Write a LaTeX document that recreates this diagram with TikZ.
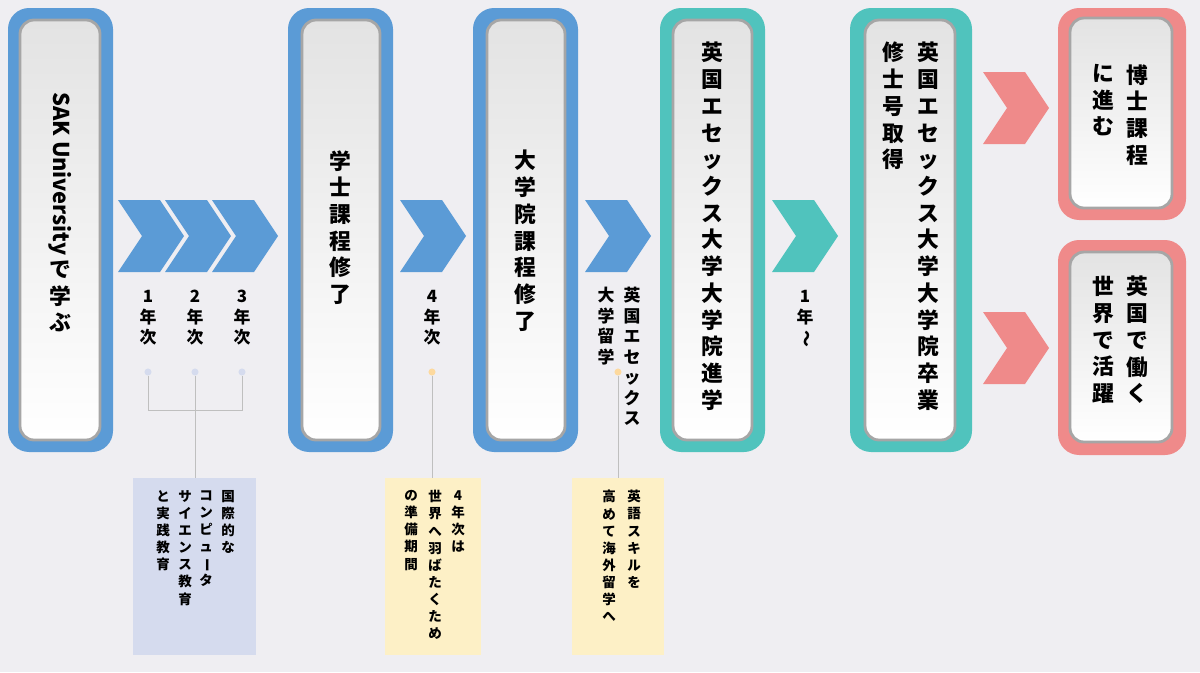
\documentclass[tikz,border=0pt]{standalone}
\usepackage{fontspec}
\setmainfont{Noto Sans CJK JP}
\usepackage{graphicx}
\usetikzlibrary{positioning, calc}

\definecolor{bgc}{HTML}{EFEEF2}
\definecolor{blu}{HTML}{5B9BD6}
\definecolor{tea}{HTML}{50C3BD}
\definecolor{red}{HTML}{EF8A8A}
\definecolor{lav}{HTML}{D5DBEE}
\definecolor{yel}{HTML}{FDF0C6}

% vertical text: one character per line
\def\tate#1{\tatei#1\relax}
\def\tatei#1{\ifx\relax#1\else#1\\\expandafter\tatei\fi}
\def\vsim{\rotatebox[origin=c]{-90}{〜}}
\def\vdash{\rotatebox[origin=c]{-90}{ー}}
\def\sak{\rotatebox{-90}{SAK University\,}}

\tikzset{
  card/.style={rounded corners=15pt, fill=#1},
  inner/.style={rounded corners=10pt, draw=gray!70, line width=2pt,
    top color=gray!22, bottom color=white},
  col/.style={anchor=north, align=center, inner sep=0pt, font=\bfseries\fontsize{15.5pt}{19pt}\selectfont},
  lab/.style={anchor=north, align=center, inner sep=0pt, font=\bfseries\fontsize{12pt}{14.6pt}\selectfont},
  note/.style={anchor=north, align=center, inner sep=0pt, font=\bfseries\fontsize{9.6pt}{12.2pt}\selectfont},
  dot/.style={circle, inner sep=0pt, minimum size=5pt, fill=#1},
  link/.style={draw=gray!50, line width=0.6pt},
}
\newcommand\chev[3]{% x0, y0, colour
  \fill[#3] (#1,#2) -- ++(42,0) -- ++(24,36) -- ++(-24,36) -- ++(-42,0) -- ++(24,-36) -- cycle;}

\begin{document}
\begin{tikzpicture}[x=0.025cm, y=-0.025cm]
\fill[bgc] (0,0) rectangle (1200,672);
\useasboundingbox (0,0) rectangle (1200,672);

% cards
\fill[card=blu] (8,8) rectangle (113,452);
\draw[inner] (20,20) rectangle (100,440);
\fill[card=blu] (288,8) rectangle (393,452);
\draw[inner] (302,20) rectangle (380,440);
\fill[card=blu] (473,8) rectangle (578,452);
\draw[inner] (487,20) rectangle (565,440);
\fill[card=tea] (660,8) rectangle (765,452);
\draw[inner] (673,20) rectangle (752,440);
\fill[card=tea] (850,8) rectangle (972,452);
\draw[inner] (865,20) rectangle (955,440);
\fill[card=red] (1058,8) rectangle (1186,220);
\draw[inner] (1070,18) rectangle (1172,208);
\fill[card=red] (1058,240) rectangle (1186,455);
\draw[inner] (1070,252) rectangle (1172,442);

% chevrons
\chev{118}{200}{blu}
\chev{165}{200}{blu}
\chev{212}{200}{blu}
\chev{400}{200}{blu}
\chev{585}{200}{blu}
\chev{772}{200}{tea}
\chev{983}{72}{red}
\chev{983}{312}{red}

% card texts
\node[col] (sak) at (60,92) {\tate{\sak で学ぶ}};
\node[col] (bach) at (340,150) {\tate{学士課程修了}};
\node[col] (mast) at (525,150) {\tate{大学院課程修了}};
\node[col] (ent) at (712,42) {\tate{英国エセックス大学大学院進学}};
\node[col] (grad) at (928,42) {\tate{英国エセックス大学大学院卒業}};
\node[col] (deg) at (893,42) {\tate{修士号取得}};
\node[col] (phd) at (1137,64) {\tate{博士課程}};
\node[col] (go) at (1103,64) {\tate{に進む}};
\node[col] (work) at (1137,276) {\tate{英国で働く}};
\node[col] (act) at (1103,276) {\tate{世界で活躍}};

% year labels
\node[lab] (y1) at (148,290) {\tate{1年次}};
\node[lab] (y2) at (195,290) {\tate{2年次}};
\node[lab] (y3) at (242,290) {\tate{3年次}};
\node[lab] (y4) at (432,290) {\tate{4年次}};
\node[lab] (uk) at (632,287) {\tate{英国エセックス}};
\node[lab] (st) at (606,287) {\tate{大学留学}};
\node[lab] (y5) at (805,290) {\tate{1年\vsim}};

% dots
\node[dot=lav] (d1) at (148,372) {};
\node[dot=lav] (d2) at (195,372) {};
\node[dot=lav] (d3) at (242,372) {};
\node[dot=yel!80!orange] (d4) at (432,372) {};
\node[dot=yel!80!orange] (d5) at (618,372) {};

% note boxes
\fill[lav] (133,478) rectangle (256,655);
\fill[yel] (385,478) rectangle (481,655);
\fill[yel] (572,478) rectangle (664,655);
\coordinate (b1) at (195,478);
\coordinate (b2) at (432,478);
\coordinate (b3) at (618,478);
\coordinate (jn) at (195,410);
\node[note] (n1) at (228,490) {\tate{国際的な}};
\node[note] (n2) at (206,490) {\tate{コンピュ\vdash タ}};
\node[note] (n3) at (185,490) {\tate{サイエンス教育}};
\node[note] (n4) at (163,490) {\tate{と実践教育}};
\node[note] (n5) at (458,490) {\tate{4年次は}};
\node[note] (n6) at (435,490) {\tate{世界へ羽ばたくため}};
\node[note] (n7) at (411,490) {\tate{の準備期間}};
\node[note] (n8) at (634,490) {\tate{英語スキルを}};
\node[note] (n9) at (609,490) {\tate{高めて海外留学へ}};

% connectors
\draw[link] (d1) |- (jn) -| (d3);
\draw[link] (d2) -- (b1);
\draw[link] (d4) -- (b2);
\draw[link] (d5) -- (b3);
\end{tikzpicture}
\end{document}
